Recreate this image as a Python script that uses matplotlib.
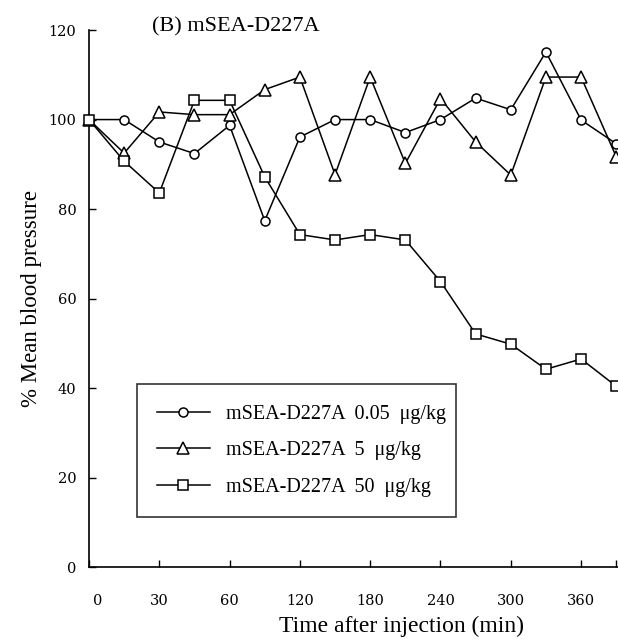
import matplotlib
matplotlib.use('Agg')
import matplotlib.pyplot as plt
import matplotlib.transforms as mtransforms

# sampling times (min); plotted at equal spacing like the original figure
times = [0, 15, 30, 45, 60, 90, 120, 150, 180, 210, 240, 270, 300, 330, 360, 390]
tick_labels = ['0', '30', '60', '120', '180', '240', '300', '360']

low_dose = [100, 100, 95.0, 92.4, 98.7, 77.4, 96.1, 100, 100, 97.1, 100, 104.8, 102.2, 115.1, 99.9, 94.6]
mid_dose = [100, 92.5, 101.7, 101.1, 101.1, 106.7, 109.5, 87.7, 109.5, 90.2, 104.7, 95.0, 87.6, 109.5, 109.5, 91.7]
high_dose = [100, 90.7, 83.6, 104.3, 104.3, 87.2, 74.3, 73.1, 74.3, 73.1, 63.8, 52.1, 49.8, 44.2, 46.5, 40.4]

labels = ['mSEA-D227A  0.05  \u03bcg/kg', 'mSEA-D227A  5  \u03bcg/kg', 'mSEA-D227A  50  \u03bcg/kg']

plt.rcParams['font.family'] = ['Liberation Serif', 'DejaVu Serif']

fig = plt.figure(figsize=(6.18, 6.40), dpi=100)
ax = fig.add_axes([0.144, 0.114, 0.856, 0.839])

pos = list(range(len(times)))
style = dict(color='black', lw=1.1, markerfacecolor='white', markeredgecolor='black',
             markeredgewidth=1.1, clip_on=False)
ax.plot(pos, low_dose, marker='o', markersize=6.5, label=labels[0], zorder=3, **style)
ax.plot(pos, mid_dose, marker='^', markersize=9, label=labels[1], zorder=4, **style)
ax.plot(pos, high_dose, marker='s', markersize=7.5, label=labels[2], zorder=5, **style)

ax.set_xlim(0, 15.05)
ax.set_ylim(0, 120)
ax.spines['top'].set_visible(False)
ax.spines['right'].set_visible(False)
for s in ['left', 'bottom']:
    ax.spines[s].set_linewidth(1.2)

ax.set_xticks([0, 2, 4, 6, 8, 10, 12, 14, 15])
ax.set_xticklabels(tick_labels + [''], fontsize=10.5)
ax.set_yticks([0, 20, 40, 60, 80, 100, 120])
ax.set_yticklabels(['0', '20', '40', '60', '80', '100', '120'], fontsize=10.5)
for lab in ax.get_xticklabels() + ax.get_yticklabels():
    lab.set_fontfamily('DejaVu Serif')
ax.tick_params(axis='x', direction='in', length=5, width=1, pad=19.5)
ax.tick_params(axis='y', direction='in', length=5, width=1, pad=9)
# the "0" label sits a bit right of the axis in the original
lab0 = ax.get_xticklabels()[0]
lab0.set_transform(lab0.get_transform() + mtransforms.ScaledTranslation(6 / 72, 0, fig.dpi_scale_trans))

ax.set_xlabel('Time after injection (min)', fontsize=17)
ax.xaxis.set_label_coords(0.59, -0.09)
ax.set_ylabel('% Mean blood pressure', fontsize=16.5, labelpad=5)

fig.text(152 / 618, 1 - 31 / 640, '(B) mSEA-D227A', fontsize=16, va='baseline', ha='left')

leg = ax.legend(loc='lower left', bbox_to_anchor=(0.091, 0.093, 0.602, 0.25), mode='expand',
                fontsize=14.5, handlelength=2.6, handletextpad=0.8, labelspacing=0.87,
                borderpad=1.0, borderaxespad=0, fancybox=False, frameon=True)
leg.get_frame().set_edgecolor('black')
leg.get_frame().set_linewidth(1.2)

fig.savefig('out.png', dpi=100)
